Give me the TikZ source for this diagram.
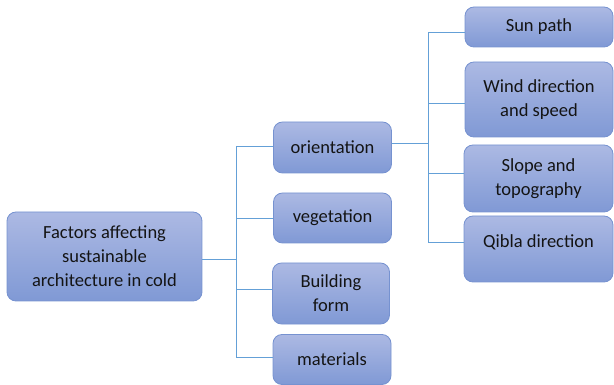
\documentclass[tikz,border=0pt]{standalone}
\usepackage{fontspec}
\setmainfont{Carlito}
\definecolor{boxtop}{RGB}{172,185,227}
\definecolor{boxbot}{RGB}{128,153,213}
\definecolor{boxline}{RGB}{118,146,208}
\definecolor{connblue}{RGB}{100,160,215}
\definecolor{txt}{RGB}{20,20,20}
\begin{document}
\begin{tikzpicture}[x=1pt,y=-1pt,
  box/.style={draw=boxline, line width=0.8pt, rounded corners=9pt,
    top color=boxtop, bottom color=boxbot, align=center,
    font=\fontsize{18.5}{24}\selectfont, text=txt, inner sep=0pt},
  conn/.style={draw=connblue, line width=0.9pt}]
\useasboundingbox (0,0) rectangle (614,385);
\node[box, minimum width=195pt, minimum height=89pt] (root) at (104.5,256.5) {Factors affecting\\sustainable\\architecture in cold};
\node[box, minimum width=118pt, minimum height=51pt] (orient) at (332.5,147.5) {orientation};
\node[box, minimum width=118pt, minimum height=50pt] (veg) at (332.5,218) {vegetation};
\node[box, minimum width=117pt, minimum height=61pt] (build) at (331,293.5) {Building\\form};
\node[box, minimum width=118pt, minimum height=50pt] (mat) at (332,359.5) {materials};
\node[box, minimum width=148pt, minimum height=40pt] (sun) at (539,27) {Sun path};
\node[box, minimum width=148pt, minimum height=75pt] (wind) at (539,99.5) {Wind direction\\and speed};
\node[box, minimum width=149pt, minimum height=67pt] (slope) at (538.5,178.5) {Slope and\\topography};
\node[box, minimum width=149pt, minimum height=66pt, text depth=16pt] (qibla) at (538.5,249) {Qibla direction};
% left bus
\coordinate (bus1) at (236,0);
\draw[conn] ([yshift=-2.5pt]root.east) -- ([yshift=-2.5pt]root.east -| bus1);
\draw[conn] ([yshift=1.5pt]orient.west -| bus1) -- ([yshift=2.5pt]mat.west -| bus1);
\draw[conn] ([yshift=1.5pt]orient.west -| bus1) -- ([yshift=1.5pt]orient.west);
\draw[conn] (veg.west -| bus1) -- (veg.west);
\draw[conn] ([yshift=4.5pt]build.west -| bus1) -- ([yshift=4.5pt]build.west);
\draw[conn] ([yshift=2.5pt]mat.west -| bus1) -- ([yshift=2.5pt]mat.west);
% right bus
\coordinate (bus2) at (428,0);
\draw[conn] ([yshift=4.5pt]orient.east) -- ([yshift=4.5pt]orient.east -| bus2);
\draw[conn] ([yshift=-5pt]sun.west -| bus2) -- ([yshift=7pt]qibla.west -| bus2);
\draw[conn] ([yshift=-5pt]sun.west -| bus2) -- ([yshift=-5pt]sun.west);
\draw[conn] ([yshift=-3.5pt]wind.west -| bus2) -- ([yshift=-3.5pt]wind.west);
\draw[conn] ([yshift=5.5pt]slope.west -| bus2) -- ([yshift=5.5pt]slope.west);
\draw[conn] ([yshift=7pt]qibla.west -| bus2) -- ([yshift=7pt]qibla.west);
\end{tikzpicture}
\end{document}
